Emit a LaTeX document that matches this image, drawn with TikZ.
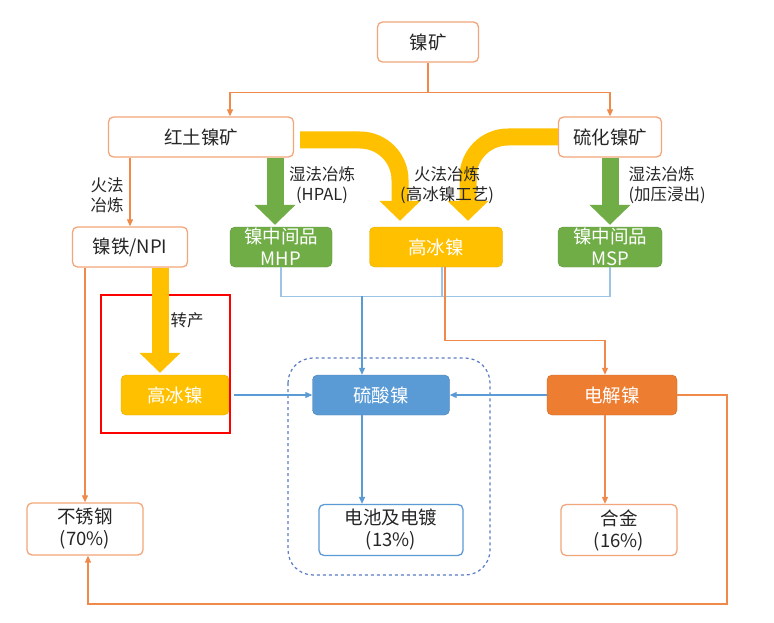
\documentclass[tikz,border=0pt]{standalone}
\usepackage{fontspec}
\setmainfont{Noto Sans CJK SC}
\usetikzlibrary{arrows.meta,positioning}
\definecolor{oline}{HTML}{F08A4B}
\definecolor{oborder}{HTML}{F2A77A}
\definecolor{ngreen}{HTML}{70AD47}
\definecolor{nyellow}{HTML}{FFC000}
\definecolor{nblue}{HTML}{5B9BD5}
\definecolor{nbus}{HTML}{9DC3E6}
\definecolor{norange}{HTML}{ED7D31}
\definecolor{ndash}{HTML}{5A7CC4}

\tikzset{
  base/.style={rounded corners=5pt,minimum height=40pt,inner sep=1pt,align=center,
    font=\fontsize{18.5}{22}\selectfont},
  obox/.style={base,draw=oborder,line width=1.3pt,fill=white,text=black!85},
  gbox/.style={base,draw=ngreen!85!black,fill=ngreen,text=white},
  ybox/.style={base,draw=nyellow!90!black,fill=nyellow,text=white},
  bbox/.style={base,draw=nblue!80!black,fill=nblue,text=white},
  rbox/.style={base,draw=norange!85!black,fill=norange,text=white},
  olink/.style={draw=oline,line width=1.1pt,-{Triangle[length=7pt,width=6pt]}},
  blink/.style={draw=nblue,line width=1.1pt,-{Triangle[length=7pt,width=6pt]}},
  bus/.style={draw=nbus,line width=1.1pt},
  fat/.style={line width=17pt,-{Triangle[length=20pt,width=40pt]}},
  lab/.style={align=center,font=\fontsize{16.5}{20}\selectfont,text=black!85}
}

\begin{document}
\begin{tikzpicture}[x=1pt,y=-1pt]
    \useasboundingbox[fill=white] (0,0) rectangle (774,623);
    % boxes
    \node[obox,minimum width=101pt] (ore) at (428,42) {镍矿};
    \node[obox,minimum width=185pt] (laterite) at (201,137) {红土镍矿};
    \node[obox,minimum width=103pt] (sulfide) at (610,137) {硫化镍矿};
    \node[obox,minimum width=115pt] (npi) at (130,247) {镍铁/NPI};
    \node[gbox,minimum width=102pt] (mhp) at (281,247) {镍中间品\\MHP};
    \node[ybox,minimum width=133pt] (matte) at (436,247) {高冰镍};
    \node[gbox,minimum width=104pt] (msp) at (610,247) {镍中间品\\MSP};
    \node[ybox,minimum width=108pt] (matteb) at (175,395) {高冰镍};
    \node[bbox,minimum width=137pt] (sulfate) at (381,395) {硫酸镍};
    \node[rbox,minimum width=130pt] (cathode) at (612,395) {电解镍};
    \node[obox,minimum width=116pt,minimum height=52pt] (steel) at (85,529) {不锈钢\\(70\%)};
    \node[base,draw=nblue,line width=1.3pt,fill=white,text=black!85,minimum width=144pt,minimum height=51pt]
        (battery) at (391,530) {电池及电镀\\(13\%)};
    \node[obox,minimum width=116pt,minimum height=51pt] (alloy) at (619,530) {合金\\(16\%)};
    \draw[red,line width=1.5pt] (101,295) rectangle (230,433);
    \draw[ndash,line width=1.2pt,dashed,rounded corners=25pt] (288,358) rectangle (490,575);

    % ore split
    \draw[olink,-] (ore.south) -- ++(0,30) coordinate (fork);
    \draw[olink] (fork) -| ([xshift=29pt]laterite.north);
    \draw[olink] (fork) -| (sulfide.north);
    \draw[olink] (npi.north |- laterite.south) -- (npi.north);
    \node[lab] (fire) at (107,195) {火法\\冶炼};

    % smelting routes
    \draw[fat,ngreen] ([xshift=-6pt]mhp.north |- laterite.south) -- ([xshift=-6pt,yshift=2pt]mhp.north);
    \draw[fat,ngreen] (sulfide.south) -- ([yshift=2pt]msp.north);
    \draw[fat,nyellow,rounded corners=40pt] ([xshift=6pt,yshift=-3pt]laterite.east) -| ([xshift=-36pt,yshift=6pt]matte.north);
    \draw[fat,nyellow,rounded corners=40pt] (sulfide.west) -| ([xshift=32pt,yshift=6pt]matte.north);
    \node[lab] (hpal) at (322,185) {湿法冶炼\\(HPAL)};
    \node[lab] (pyro) at (447,185) {火法冶炼\\(高冰镍工艺)};
    \node[lab,align=left,anchor=west] (leach) at (625,185) {湿法冶炼\\(加压浸出)};

    % intermediates to sulfate / cathode
    \draw[bus] (mhp.south) -- ++(0,29) coordinate (busl) -| (msp.south);
    \draw[bus] ([xshift=6pt]matte.south) -- ([xshift=6pt]matte.south |- busl);
    \draw[blink] ([xshift=-19pt]sulfate.north |- busl) -- ([xshift=-19pt]sulfate.north);
    \draw[olink] ([xshift=9pt]matte.south) -- ++(0,73) -| ([xshift=-7pt]cathode.north);

    % NPI conversion
    \draw[fat,nyellow] ([xshift=30pt]npi.south) -- ([xshift=-15pt,yshift=2pt]matteb.north);
    \node[lab] (convert) at (187,320) {转产};

    % end uses
    \draw[olink] (steel.north |- npi.south) -- (steel.north);
    \draw[blink] ([xshift=5pt]matteb.east) -- (sulfate.west);
    \draw[blink] (cathode.west) -- (sulfate.east);
    \draw[blink] ([xshift=-19pt]sulfate.south) -- ([xshift=-19pt]sulfate.south |- battery.north);
    \draw[olink] ([xshift=-7pt]cathode.south) -- ([xshift=-7pt]cathode.south |- alloy.north);
    \coordinate (loop) at (727,604);
    \draw[olink] (cathode.east) -| (loop) -| ([xshift=3pt]steel.south);
\end{tikzpicture}
\end{document}
